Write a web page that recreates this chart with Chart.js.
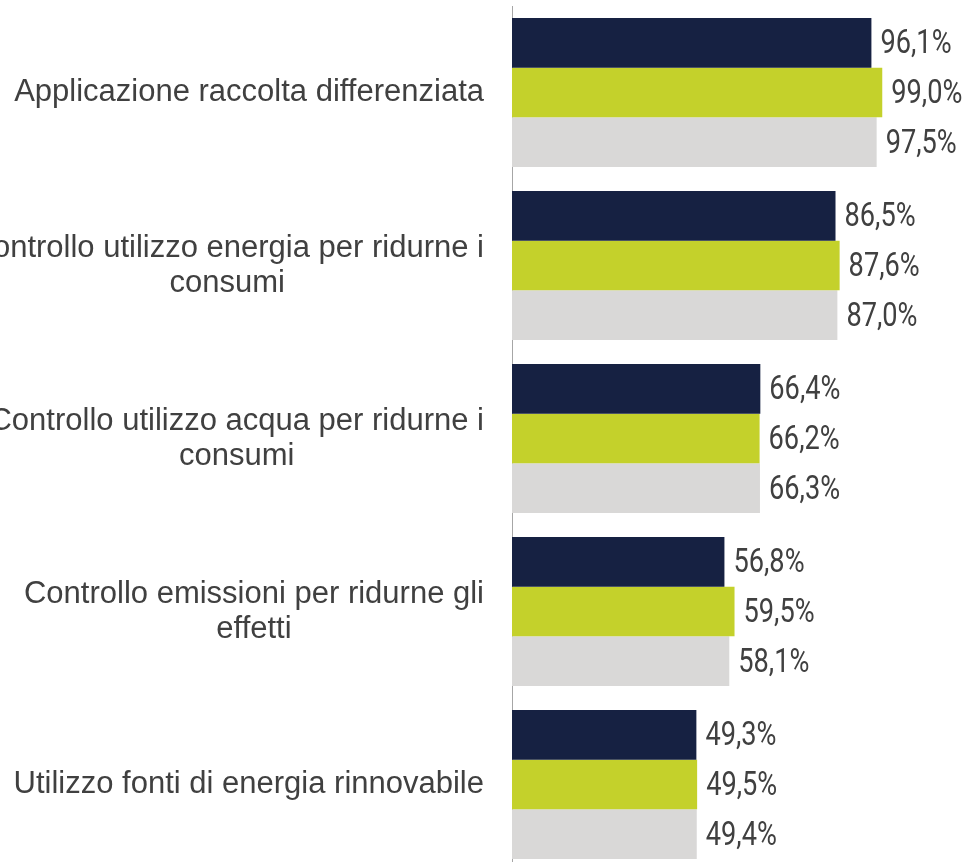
<!DOCTYPE html>
<html>
<head>
<meta charset="utf-8">
<script src="https://cdn.jsdelivr.net/npm/chart.js@4"></script>
<style>
  html, body { margin: 0; padding: 0; background: #fff; overflow: hidden; }
  canvas { display: block; }
</style>
</head>
<body>
<canvas id="myChart" width="968" height="871"></canvas>
<script>
// categorie (le righe a capo sono volute)
var categories = [
    ['Applicazione raccolta differenziata'],
    ['Controllo utilizzo energia per ridurne i', 'consumi'],
    ['Controllo utilizzo acqua per ridurne i', 'consumi'],
    ['Controllo emissioni per ridurne gli', 'effetti'],
    ['Utilizzo fonti di energia rinnovabile']
]

// valori in percentuale, tre serie
var serie1 = [96.1, 86.5, 66.4, 56.8, 49.3]
var serie2 = [99.0, 87.6, 66.2, 59.5, 49.5]
var serie3 = [97.5, 87.0, 66.3, 58.1, 49.4]

var colori = ['#162142', '#C4D12B', '#D9D8D7']

// etichette dell'asse y: ogni riga centrata, blocco allineato a destra
var categoryLabels = {
    id: 'categoryLabels',
    afterDraw: function(chart) {
        var ctx = chart.ctx
        var scale = chart.scales.y
        var right = scale.right - 28
        var lineH = 35
        ctx.save()
        ctx.font = '31px "Liberation Sans", Arial, sans-serif'
        ctx.fillStyle = '#404040'
        ctx.textAlign = 'center'
        ctx.textBaseline = 'middle'
        categories.forEach(function(lines, i) {
            var y = scale.getPixelForTick(i)
            var w = 0
            lines.forEach(function(l) { w = Math.max(w, ctx.measureText(l).width) })
            var cx = right - w / 2
            var y0 = y - (lines.length - 1) * lineH / 2
            lines.forEach(function(l, k) {
                ctx.fillText(l, cx, y0 + k * lineH)
            })
        })
        ctx.restore()
    }
}

// valori a destra delle barre, carattere stretto (compresso in orizzontale)
var valueLabels = {
    id: 'valueLabels',
    afterDatasetsDraw: function(chart) {
        var ctx = chart.ctx
        var sx = 0.8
        ctx.save()
        ctx.font = '34px Roboto, "Liberation Sans", sans-serif'
        ctx.fillStyle = '#404040'
        ctx.textAlign = 'left'
        ctx.textBaseline = 'middle'
        chart.data.datasets.forEach(function(ds, d) {
            chart.getDatasetMeta(d).data.forEach(function(bar, i) {
                var txt = ds.data[i].toFixed(1).replace('.', ',') + '%'
                ctx.save()
                ctx.translate(bar.x + 9, bar.y + 2)
                ctx.scale(sx, 1)
                ctx.fillText(txt, 0, 0)
                ctx.restore()
            })
        })
        ctx.restore()
    }
}

var myChart = document.getElementById('myChart').getContext('2d')

var chart = new Chart(myChart, {
    type: 'bar',
    data: {
        labels: categories,
        datasets: [
            { data: serie1, backgroundColor: colori[0] },
            { data: serie2, backgroundColor: colori[1] },
            { data: serie3, backgroundColor: colori[2] }
        ]
    },
    options: {
        indexAxis: 'y',
        responsive: false,
        animation: false,
        layout: { padding: { top: 6, right: 82, bottom: 0, left: 0 } },
        datasets: {
            bar: {
                categoryPercentage: 0.86,
                barPercentage: 1.0,
                borderWidth: 0
            }
        },
        plugins: {
            legend: { display: false },
            tooltip: { enabled: false }
        },
        scales: {
            x: {
                display: false,
                min: 0,
                max: 100
            },
            y: {
                grid: { display: false, drawTicks: false },
                border: { display: true, color: '#A6A6A6', width: 1 },
                ticks: { display: false },
                afterFit: function(scale) { scale.width = 512 }
            }
        }
    },
    plugins: [categoryLabels, valueLabels]
})
</script>
</body>
</html>
